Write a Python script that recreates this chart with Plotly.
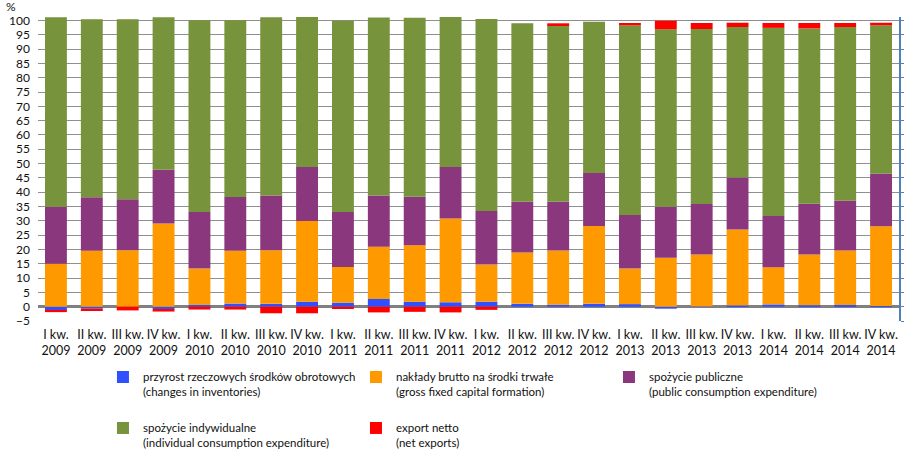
import plotly.graph_objects as go

quarters = ["I kw.", "II kw.", "III kw.", "IV kw."]
years = ["2009", "2010", "2011", "2012", "2013", "2014"]
categories = [f"{q}<br>{y}" for y in years for q in quarters]

inventories = [-1.4, -0.7, 0.0, -0.8, 0.6, 1.1, 1.0, 1.75, 1.4, 2.7, 1.75, 1.55,
               1.75, 1.0, 0.7, 1.0, 0.9, -0.7, 0.1, 0.4, 0.8, 0.5, 0.6, 0.2]
gfcf = [15.0, 19.5, 19.7, 29.1, 12.7, 18.4, 18.7, 28.15, 12.5, 18.2, 19.75, 29.25,
        12.95, 17.9, 18.9, 27.2, 12.4, 17.1, 18.1, 26.6, 13.0, 17.7, 19.0, 27.9]
public = [19.9, 18.7, 17.8, 18.7, 19.8, 18.8, 19.1, 18.9, 19.2, 17.9, 16.9, 18.0,
          18.7, 17.8, 17.1, 18.5, 18.7, 17.8, 17.7, 18.1, 17.9, 17.8, 17.4, 18.3]
individual = [66.2, 62.2, 62.9, 53.3, 67.0, 61.8, 62.3, 52.4, 66.8, 62.2, 62.5, 52.5,
              67.1, 62.3, 61.7, 52.8, 66.3, 62.0, 61.1, 52.6, 65.7, 61.2, 60.7, 51.9]
net_exports = [-0.5, -0.8, -1.3, -0.9, -1.0, -1.0, -2.3, -2.3, -0.8, -2.0, -1.8, -2.0,
               -1.1, 0.0, 0.6, 0.0, 0.8, 3.0, 2.1, 1.5, 1.7, 1.9, 1.4, 0.9]

series_names = [
    "przyrost rzeczowych środków obrotowych<br>(changes in inventories)",
    "nakłady brutto na środki trwałe<br>(gross fixed capital formation)",
    "spożycie publiczne<br>(public consumption expenditure)",
    "spożycie indywidualne<br>(individual consumption expenditure)",
    "export netto<br>(net exports)",
]
series_values = [inventories, gfcf, public, individual, net_exports]
series_colors = ["#3050FF", "#FF9900", "#8A377E", "#77933C", "#FF0000"]
series_legends = ["legend", "legend", "legend", "legend2", "legend2"]

FONT = "Lato, Liberation Sans, Arial, sans-serif"

fig = go.Figure()
for name, vals, col, lg in zip(series_names, series_values, series_colors, series_legends):
    fig.add_trace(go.Bar(
        x=categories, y=vals, name=name, legend=lg,
        marker=dict(color=col, line=dict(width=0)),
    ))

# right-hand (blue) secondary axis, no data values
fig.add_trace(go.Scatter(x=categories, y=[None] * len(categories), yaxis="y2",
                         showlegend=False, hoverinfo="skip", mode="lines"))

yr = [-5, 101.2]
fig.update_layout(
    width=908, height=466,
    margin=dict(l=38, r=9, t=17, b=145),
    barmode="relative",
    bargap=0.39,
    plot_bgcolor="white", paper_bgcolor="white",
    font=dict(family=FONT, size=12, color="#111111"),
    xaxis=dict(
        type="category", showgrid=False, showline=False, zeroline=False,
        ticks="", tickfont=dict(size=12.5, color="#111111"), tickangle=0,
        ticklabelstandoff=4, automargin=False,
    ),
    yaxis=dict(
        range=yr, tickmode="linear", tick0=0, dtick=5,
        showgrid=True, gridcolor="#8f8f8f", gridwidth=1,
        zeroline=True, zerolinecolor="#808080", zerolinewidth=2.5,
        showline=False, ticks="", tickfont=dict(size=12, color="#111111"),
        ticklabelstandoff=7, automargin=False,
    ),
    yaxis2=dict(
        range=yr, overlaying="y", side="right", tickmode="linear", tick0=0, dtick=5,
        showgrid=False, zeroline=False, showline=True, linecolor="#4F81BD", linewidth=2,
        ticks="outside", ticklen=3, tickcolor="#4F81BD", tickwidth=1, showticklabels=False,
        automargin=False,
    ),
    legend=dict(
        orientation="h", xref="container", yref="container",
        x=0.1134, y=0.221, xanchor="left", yanchor="top",
        entrywidth=208, entrywidthmode="pixels", valign="top",
        font=dict(family=FONT, size=11.5, color="#111111"),
        bgcolor="rgba(0,0,0,0)", traceorder="normal",
    ),
    legend2=dict(
        orientation="h", xref="container", yref="container",
        x=0.1134, y=0.1116, xanchor="left", yanchor="top",
        entrywidth=208, entrywidthmode="pixels", valign="top",
        font=dict(family=FONT, size=11.5, color="#111111"),
        bgcolor="rgba(0,0,0,0)", traceorder="normal",
    ),
    annotations=[dict(
        text="%", xref="paper", yref="paper", x=-0.031, y=1.0345,
        xanchor="center", yanchor="middle", showarrow=False,
        font=dict(family=FONT, size=12, color="#111111"),
    )],
)

fig.write_html(
    "out.html",
    config={"displayModeBar": False},
    post_script="document.body.style.margin='0';document.body.style.padding='0';",
)
